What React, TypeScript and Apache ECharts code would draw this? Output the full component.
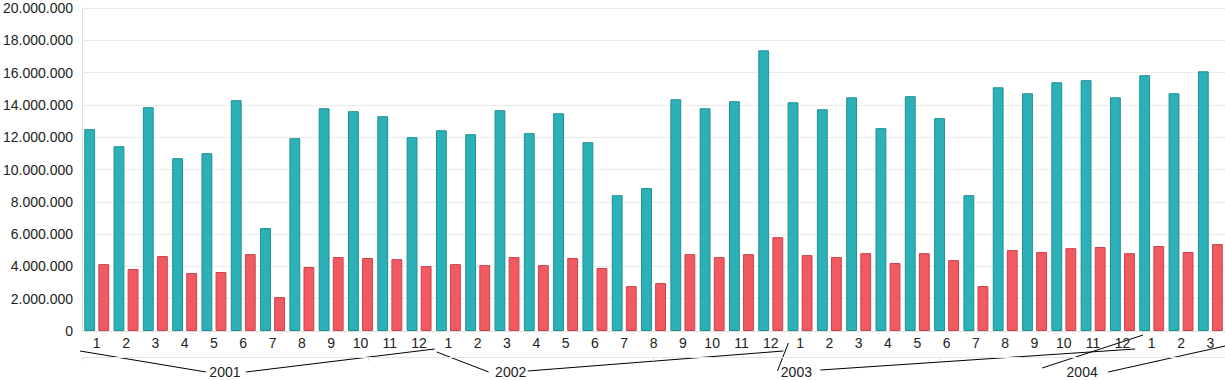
import React, { useEffect, useRef } from "react";
import * as echarts from "echarts";

const months: string[] = [
  "1","2","3","4","5","6","7","8","9","10","11","12",
  "1","2","3","4","5","6","7","8","9","10","11","12",
  "1","2","3","4","5","6","7","8","9","10","11","12",
  "1","2","3",
];
const years: string[] = ["2001", "2002", "2003", "2004"];
const yearStart: number[] = [0, 12, 24, 36];
const yearEnd: number[] = [12, 24, 36, 39];

const seriesA: number[] = [
  12500000, 11440000, 13860000, 10700000, 11010000, 14290000, 6370000, 11940000, 13790000, 13610000, 13300000, 12000000,
  12430000, 12190000, 13670000, 12250000, 13480000, 11690000, 8410000, 8850000, 14350000, 13790000, 14230000, 17380000,
  14160000, 13730000, 14470000, 12560000, 14540000, 13180000, 8410000, 15090000, 14720000, 15400000, 15530000, 14470000,
  15840000, 14720000, 16080000,
];
const seriesB: number[] = [
  4140000, 3840000, 4640000, 3590000, 3650000, 4760000, 2100000, 3960000, 4580000, 4520000, 4450000, 4020000,
  4140000, 4080000, 4580000, 4080000, 4520000, 3900000, 2780000, 2970000, 4760000, 4580000, 4760000, 5810000,
  4700000, 4580000, 4820000, 4210000, 4820000, 4390000, 2780000, 5010000, 4890000, 5130000, 5200000, 4820000,
  5260000, 4890000, 5380000,
];

// leader-line decoration offsets (relative to group boundaries / year label centres)
// [upperDx, upperDy, lowerDx, lowerDy] for left and right lines of each year
const leftLines: number[][] = [
  [-2, 20, -19, 41],
  [3, 21, -22, 41],
  [3, 12, -19, 40],
  [6, 4, -40, 37],
];
const rightLines: number[][] = [
  [1, 18, 21, 41],
  [-2, 20, 17, 40],
  [-2, 18, 24, 39],
  [0, 15, 26, 41],
];

const fmt = (v: number) => String(v).replace(/\B(?=(\d{3})+(?!\d))/g, ".");

const FONT = "'Liberation Sans', Arial, sans-serif";

export default function App() {
  const ref = useRef<HTMLDivElement>(null);
  useEffect(() => {
    if (!ref.current) return;
    const chart = echarts.init(ref.current, undefined, { renderer: "svg" });
    chart.setOption({
      animation: false,
      textStyle: { fontFamily: FONT },
      grid: { left: 80, right: 0, top: 8, bottom: 49, containLabel: false },
      xAxis: [
        {
          type: "category",
          data: months,
          axisLine: { show: true, lineStyle: { color: "#e0e0e0" } },
          axisTick: { show: false },
          axisLabel: { fontSize: 14, color: "#222", margin: 5, fontFamily: FONT, interval: 0 },
          splitLine: { show: false },
        },
        {
          type: "category",
          data: years,
          position: "bottom",
          offset: 26,
          axisLine: { show: true, lineStyle: { color: "#e6e6e6" } },
          axisTick: { show: true, length: 4, lineStyle: { color: "#e0e0e0" } },
          axisLabel: { fontSize: 14, color: "#222", margin: 8, fontFamily: FONT },
          splitLine: { show: false },
        },
      ],
      yAxis: {
        type: "value",
        min: 0,
        max: 20000000,
        interval: 2000000,
        axisLine: { show: true, lineStyle: { color: "#e0e0e0" } },
        axisTick: { show: false },
        axisLabel: { fontSize: 14, color: "#222", margin: 9, formatter: (v: number) => fmt(v), fontFamily: FONT },
        splitLine: { lineStyle: { color: "#ebebeb" } },
      },
      series: [
        {
          type: "bar",
          xAxisIndex: 0,
          data: seriesA,
          barGap: "30%",
          barCategoryGap: "15%",
          itemStyle: { color: "#2cb1b8", borderColor: "#1f8f91", borderWidth: 1 },
        },
        {
          type: "bar",
          xAxisIndex: 0,
          data: seriesB,
          itemStyle: { color: "#f25a62", borderColor: "#c9434e", borderWidth: 1 },
        },
      ],
    });

    const c0 = chart.convertToPixel({ xAxisIndex: 0 }, 0) as number;
    const c1 = chart.convertToPixel({ xAxisIndex: 0 }, 1) as number;
    const band = c1 - c0;
    const boundary = (i: number) => c0 - band / 2 + i * band;
    const base = chart.convertToPixel({ yAxisIndex: 0 }, 0) as number;
    const elements: any[] = [];
    years.forEach((_, j) => {
      const yc = chart.convertToPixel({ xAxisIndex: 1 }, j) as number;
      const L = leftLines[j];
      const R = rightLines[j];
      elements.push({
        type: "line",
        silent: true,
        shape: { x1: boundary(yearStart[j]) + L[0], y1: base + L[1], x2: yc + L[2], y2: base + L[3] },
        style: { stroke: "#000", lineWidth: 1 },
      });
      elements.push({
        type: "line",
        silent: true,
        shape: { x1: yc + R[2], y1: base + R[3], x2: boundary(yearEnd[j]) + R[0], y2: base + R[1] },
        style: { stroke: "#000", lineWidth: 1 },
      });
    });
    chart.setOption({ graphic: { elements } });

    return () => chart.dispose();
  }, []);
  return (
    <div
      ref={ref}
      style={{ position: "fixed", left: 0, top: 0, width: 1225, height: 380, background: "#fff" }}
    />
  );
}
